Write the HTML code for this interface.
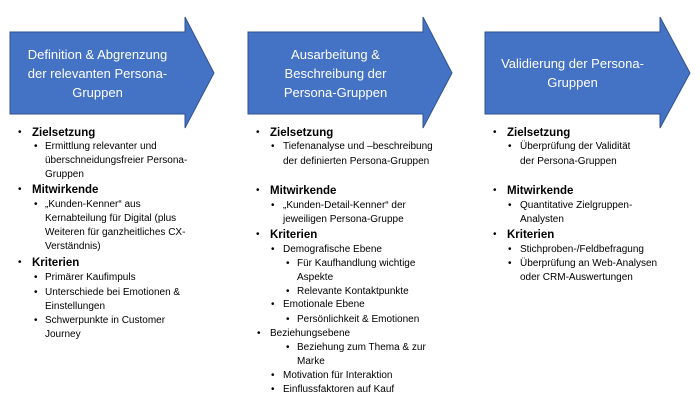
<!DOCTYPE html>
<html><head><meta charset="utf-8"><style>
body{margin:0;width:700px;height:420px;background:#fff;position:relative;overflow:hidden;font-family:"Liberation Sans",sans-serif;}
.t{position:absolute;white-space:nowrap;color:#000;line-height:14px;}
.h{font-weight:bold;font-size:11.5px;}
.s{font-size:10px;}
.b{position:absolute;font-size:10px;line-height:14px;}
.a{position:absolute;color:#fff;font-size:13px;text-align:center;line-height:19px;white-space:nowrap;}
</style></head><body>
<svg width="700" height="420" style="position:absolute;left:0;top:0">
<polygon points="10,32 185,32 185,17 214,73 185,128 185,114 10,114" fill="#4472c4" stroke="#2f528f" stroke-width="1"/>
<polygon points="248,32 423,32 423,17 452,73 423,128 423,114 248,114" fill="#4472c4" stroke="#2f528f" stroke-width="1"/>
<polygon points="485,32 660,32 660,17 690,73 660,128 660,114 485,114" fill="#4472c4" stroke="#2f528f" stroke-width="1"/>
</svg>
<div class="a" style="left:10px;width:175px;top:45px">Definition &amp; Abgrenzung<br>der relevanten Persona-<br>Gruppen</div>
<div class="a" style="left:248px;width:175px;top:45px">Ausarbeitung &amp;<br>Beschreibung der<br>Persona-Gruppen</div>
<div class="a" style="left:485px;width:175px;top:54px">Validierung der Persona-<br>Gruppen</div>

<!-- col1 -->
<div class="b" style="left:18px;top:126px">•</div><div class="t h" style="left:32px;top:126px">Zielsetzung</div>
<div class="b" style="left:34px;top:140px">•</div><div class="t s" style="left:45px;top:140px">Ermittlung relevanter und</div>
<div class="t s" style="left:45px;top:154px">überschneidungsfreier Persona-</div>
<div class="t s" style="left:45px;top:168px">Gruppen</div>
<div class="b" style="left:18px;top:183px">•</div><div class="t h" style="left:32px;top:183px">Mitwirkende</div>
<div class="b" style="left:34px;top:198px">•</div><div class="t s" style="left:45px;top:198px">„Kunden-Kenner“ aus</div>
<div class="t s" style="left:45px;top:212px">Kernabteilung für Digital (plus</div>
<div class="t s" style="left:45px;top:226px">Weiteren für ganzheitliches CX-</div>
<div class="t s" style="left:45px;top:240px">Verständnis)</div>
<div class="b" style="left:18px;top:256px">•</div><div class="t h" style="left:32px;top:256px">Kriterien</div>
<div class="b" style="left:34px;top:271px">•</div><div class="t s" style="left:45px;top:271px">Primärer Kaufimpuls</div>
<div class="b" style="left:34px;top:286px">•</div><div class="t s" style="left:45px;top:286px">Unterschiede bei Emotionen &amp;</div>
<div class="t s" style="left:45px;top:300px">Einstellungen</div>
<div class="b" style="left:34px;top:314px">•</div><div class="t s" style="left:45px;top:314px">Schwerpunkte in Customer</div>
<div class="t s" style="left:45px;top:328px">Journey</div>

<!-- col2 -->
<div class="b" style="left:256px;top:126px">•</div><div class="t h" style="left:270px;top:126px">Zielsetzung</div>
<div class="b" style="left:271px;top:140px">•</div><div class="t s" style="left:283px;top:140px">Tiefenanalyse und –beschreibung</div>
<div class="t s" style="left:283px;top:155px">der definierten Persona-Gruppen</div>
<div class="b" style="left:256px;top:184px">•</div><div class="t h" style="left:270px;top:184px">Mitwirkende</div>
<div class="b" style="left:271px;top:199px">•</div><div class="t s" style="left:283px;top:199px">„Kunden-Detail-Kenner“ der</div>
<div class="t s" style="left:283px;top:213px">jeweiligen Persona-Gruppe</div>
<div class="b" style="left:256px;top:228px">•</div><div class="t h" style="left:270px;top:228px">Kriterien</div>
<div class="b" style="left:271px;top:243px">•</div><div class="t s" style="left:283px;top:243px">Demografische Ebene</div>
<div class="b" style="left:286px;top:257px">•</div><div class="t s" style="left:297px;top:257px">Für Kaufhandlung wichtige</div>
<div class="t s" style="left:297px;top:271px">Aspekte</div>
<div class="b" style="left:286px;top:285px">•</div><div class="t s" style="left:297px;top:285px">Relevante Kontaktpunkte</div>
<div class="b" style="left:271px;top:298px">•</div><div class="t s" style="left:283px;top:298px">Emotionale Ebene</div>
<div class="b" style="left:286px;top:313px">•</div><div class="t s" style="left:297px;top:313px">Persönlichkeit &amp; Emotionen</div>
<div class="b" style="left:257px;top:327px">•</div><div class="t s" style="left:270px;top:327px">Beziehungsebene</div>
<div class="b" style="left:286px;top:341px">•</div><div class="t s" style="left:297px;top:341px">Beziehung zum Thema &amp; zur</div>
<div class="t s" style="left:297px;top:355px">Marke</div>
<div class="b" style="left:271px;top:369px">•</div><div class="t s" style="left:283px;top:369px">Motivation für Interaktion</div>
<div class="b" style="left:271px;top:383px">•</div><div class="t s" style="left:283px;top:383px">Einflussfaktoren auf Kauf</div>

<!-- col3 -->
<div class="b" style="left:493px;top:126px">•</div><div class="t h" style="left:507px;top:126px">Zielsetzung</div>
<div class="b" style="left:508px;top:140px">•</div><div class="t s" style="left:520px;top:140px">Überprüfung der Validität</div>
<div class="t s" style="left:520px;top:155px">der Persona-Gruppen</div>
<div class="b" style="left:493px;top:184px">•</div><div class="t h" style="left:507px;top:184px">Mitwirkende</div>
<div class="b" style="left:508px;top:199px">•</div><div class="t s" style="left:520px;top:199px">Quantitative Zielgruppen-</div>
<div class="t s" style="left:520px;top:213px">Analysten</div>
<div class="b" style="left:493px;top:228px">•</div><div class="t h" style="left:507px;top:228px">Kriterien</div>
<div class="b" style="left:508px;top:243px">•</div><div class="t s" style="left:520px;top:243px">Stichproben-/Feldbefragung</div>
<div class="b" style="left:508px;top:257px">•</div><div class="t s" style="left:520px;top:257px">Überprüfung an Web-Analysen</div>
<div class="t s" style="left:520px;top:271px">oder CRM-Auswertungen</div>
</body></html>
